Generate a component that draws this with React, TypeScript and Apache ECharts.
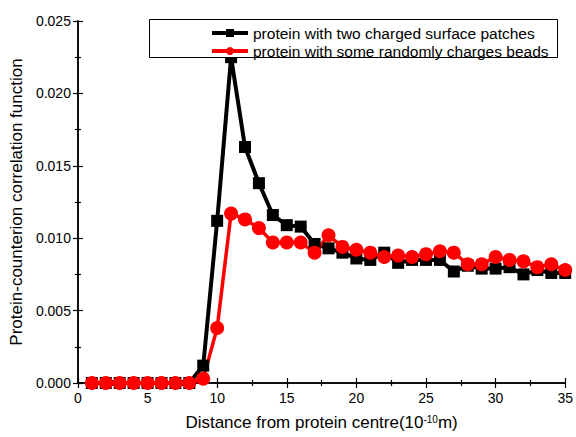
import React, { useEffect, useRef } from "react";
import * as echarts from "echarts";

const xValues = [1, 2, 3, 4, 5, 6, 7, 8, 9, 10, 11, 12, 13, 14, 15, 16, 17, 18, 19, 20, 21, 22, 23, 24, 25, 26, 27, 28, 29, 30, 31, 32, 33, 34, 35];
const twoPatches = [0, 0, 0, 0, 0, 0, 0, 0, 0.0012, 0.0112, 0.0225, 0.0163, 0.0138, 0.0116, 0.0109, 0.0108, 0.0096, 0.0093, 0.009, 0.0086, 0.0085, 0.009, 0.0083, 0.0085, 0.0085, 0.0085, 0.0077, 0.0081, 0.0079, 0.0079, 0.008, 0.0075, 0.0078, 0.0076, 0.0076];
const randomBeads = [0, 0, 0, 0, 0, 0, 0, 0, 0.0003, 0.0038, 0.0117, 0.0113, 0.0107, 0.0097, 0.0097, 0.0097, 0.009, 0.0102, 0.0094, 0.0092, 0.009, 0.0087, 0.0088, 0.0087, 0.0089, 0.0091, 0.009, 0.0082, 0.0082, 0.0087, 0.0085, 0.0084, 0.008, 0.0082, 0.0078];
const seriesNames = ["protein with two charged surface patches", "protein with some randomly charges beads"];
const xTitle = "Distance from protein centre(10{sup|-10}m)";
const yTitle = "Protein-counterion correlation function";

const FONT = "Liberation Sans, Arial, sans-serif";

export default function App() {
  const ref = useRef<HTMLDivElement>(null);
  useEffect(() => {
    if (!ref.current) return;
    const chart = echarts.init(ref.current, null, { renderer: "svg" });
    const axisLine = { show: true, lineStyle: { color: "#000", width: 1.5 } };
    const tickCommon = { show: true, inside: true, length: 5, lineStyle: { color: "#000", width: 1.2 } };
    const minorCommon = { show: true, splitNumber: 2, length: 3, lineStyle: { color: "#000", width: 1.2 } };
    chart.setOption({
      animation: false,
      backgroundColor: "#fff",
      grid: { left: 77, right: 10, top: 21, bottom: 54, containLabel: false },
      xAxis: [
        {
          type: "value",
          min: 0,
          max: 35,
          interval: 5,
          position: "bottom",
          axisLine,
          axisTick: tickCommon,
          minorTick: { ...minorCommon },
          splitLine: { show: false },
          axisLabel: { color: "#000", fontSize: 14, fontFamily: FONT, margin: 8 },
          name: xTitle,
          nameLocation: "middle",
          nameGap: 31,
          nameTextStyle: {
            color: "#000",
            fontSize: 17,
            fontFamily: FONT,
            rich: {
              sup: { fontSize: 10, fontFamily: FONT, color: "#000", verticalAlign: "top", lineHeight: 10, padding: [0, 0, 8, 0] },
            },
          },
        },
        {
          type: "value",
          min: 0,
          max: 35,
          interval: 5,
          position: "top",
          axisLine,
          axisTick: tickCommon,
          minorTick: { ...minorCommon },
          splitLine: { show: false },
          axisLabel: { show: false },
        },
      ],
      yAxis: [
        {
          type: "value",
          min: 0,
          max: 0.025,
          interval: 0.005,
          position: "left",
          axisLine,
          axisTick: tickCommon,
          minorTick: { ...minorCommon },
          splitLine: { show: false },
          axisLabel: { color: "#000", fontSize: 14, fontFamily: FONT, margin: 7, formatter: (v: number) => v.toFixed(3) },
          name: yTitle,
          nameLocation: "middle",
          nameGap: 46,
          nameTextStyle: { color: "#000", fontSize: 17, fontFamily: FONT },
        },
        {
          type: "value",
          min: 0,
          max: 0.025,
          interval: 0.005,
          position: "right",
          axisLine,
          axisTick: tickCommon,
          minorTick: { ...minorCommon },
          splitLine: { show: false },
          axisLabel: { show: false },
        },
      ],
      legend: {
        show: true,
        orient: "vertical",
        left: 205,
        top: 20,
        itemWidth: 36,
        itemHeight: 10,
        itemGap: 2,
        z: 20,
        lineStyle: { width: 4 },
        textStyle: { color: "#000", fontSize: 15.5, fontFamily: FONT, lineHeight: 15 },
        data: seriesNames,
      },
      graphic: [
        {
          type: "rect",
          z: 15,
          shape: { x: 149.5, y: 19.5, width: 408, height: 38 },
          style: { fill: "#fff", stroke: "#000", lineWidth: 1 },
        },
      ],
      series: [
        {
          name: seriesNames[0],
          type: "line",
          data: xValues.map((x, i) => [x, twoPatches[i]]),
          symbol: "rect",
          symbolSize: 12,
          lineStyle: { color: "#000", width: 4 },
          itemStyle: { color: "#000" },
        },
        {
          name: seriesNames[1],
          type: "line",
          data: xValues.map((x, i) => [x, randomBeads[i]]),
          symbol: "circle",
          symbolSize: 14,
          lineStyle: { color: "#ff0000", width: 3.5 },
          itemStyle: { color: "#ff0000" },
        },
      ],
    });
    return () => chart.dispose();
  }, []);
  return <div ref={ref} style={{ position: "fixed", left: 0, top: 0, width: 576, height: 437 }} />;
}
